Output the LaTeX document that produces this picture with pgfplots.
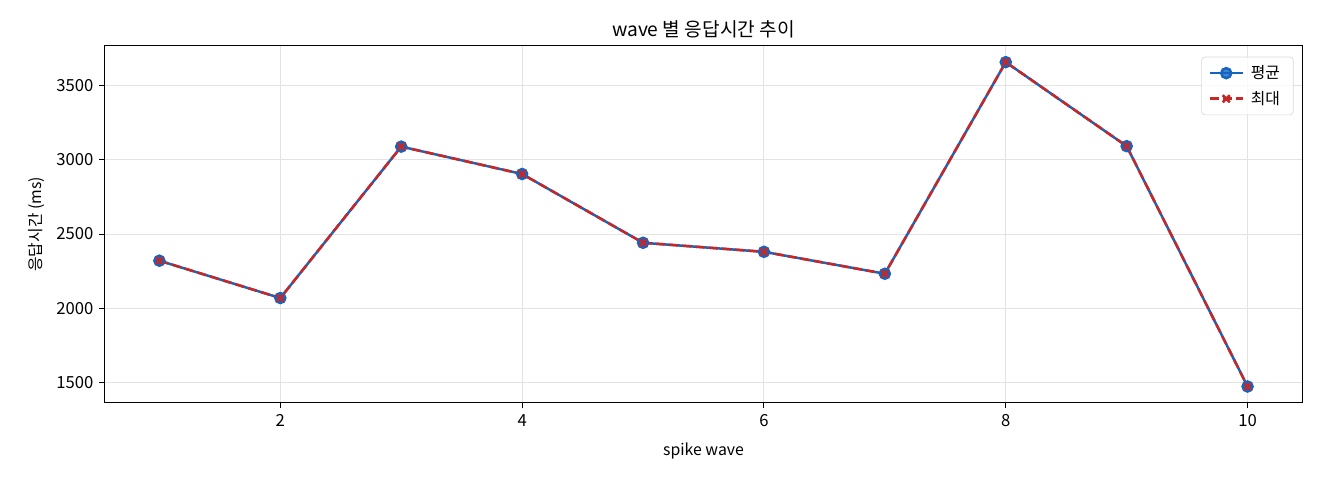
\documentclass[border=0pt]{standalone}
\usepackage{fontspec}
\setmainfont{Noto Sans CJK KR}
\usepackage{pgfplots}
\pgfplotsset{compat=1.18}
\definecolor{cblue}{HTML}{1565C0}
\definecolor{cred}{HTML}{C62828}
\definecolor{gridc}{HTML}{E3E3E3}
\begin{document}
\begin{tikzpicture}
\path[use as bounding box] (-63pt,-46.4pt) rectangle (729pt,241.6pt);
\begin{axis}[
  scale only axis,
  width=718.2pt, height=214pt,
  xmin=0.55, xmax=10.45,
  ymin=1362, ymax=3769,
  xtick={2,4,6,8,10},
  ytick={1500,2000,2500,3000,3500},
  tick align=outside,
  major tick length=3.5pt,
  tick style={black, line width=0.6pt},
  axis line style={line width=0.6pt},
  tick pos=left,
  grid=major,
  major grid style={gridc, line width=0.6pt},
  /pgf/number format/assume math mode=true,
  /pgf/number format/1000 sep={},
  tick label style={font=\fontsize{10}{12}\selectfont},
  title={wave 별 응답시간 추이},
  title style={font=\fontsize{11.5}{14}\selectfont, yshift=-5pt},
  xlabel={spike wave},
  ylabel={응답시간 (ms)},
  label style={font=\fontsize{9.5}{12}\selectfont},
  xlabel style={yshift=-3pt},
  ylabel style={yshift=0pt},
  legend style={at={(0.993,0.97)}, anchor=north east, draw=black!15, rounded corners=2pt,
    font=\fontsize{9.5}{12}\selectfont, inner xsep=4pt, inner ysep=3pt, row sep=2pt,
    fill=white, fill opacity=0.8, text opacity=1,
    nodes={inner xsep=4pt}},
  legend cell align=left,
  legend image code/.code={
    \draw[#1, mark=none] (0pt,0pt) -- (20pt,0pt);
    \draw[#1] plot coordinates {(10pt,0pt)};
  },
]
\addplot[cblue, line width=1.5pt, mark=*, mark size=3pt, mark options={solid, fill=cblue, draw=cblue}]
coordinates {(1,2320) (2,2068) (3,3090) (4,2905) (5,2441) (6,2380) (7,2232) (8,3660) (9,3093) (10,1471)};
\addlegendentry{평균}
\addplot[cred, line width=1.5pt, dash pattern=on 5.55pt off 2.4pt, mark=x, mark size=3pt, mark options={solid, line width=1.5pt}]
coordinates {(1,2320) (2,2068) (3,3090) (4,2905) (5,2441) (6,2380) (7,2232) (8,3660) (9,3093) (10,1471)};
\addlegendentry{최대}
\end{axis}
\end{tikzpicture}
\end{document}
